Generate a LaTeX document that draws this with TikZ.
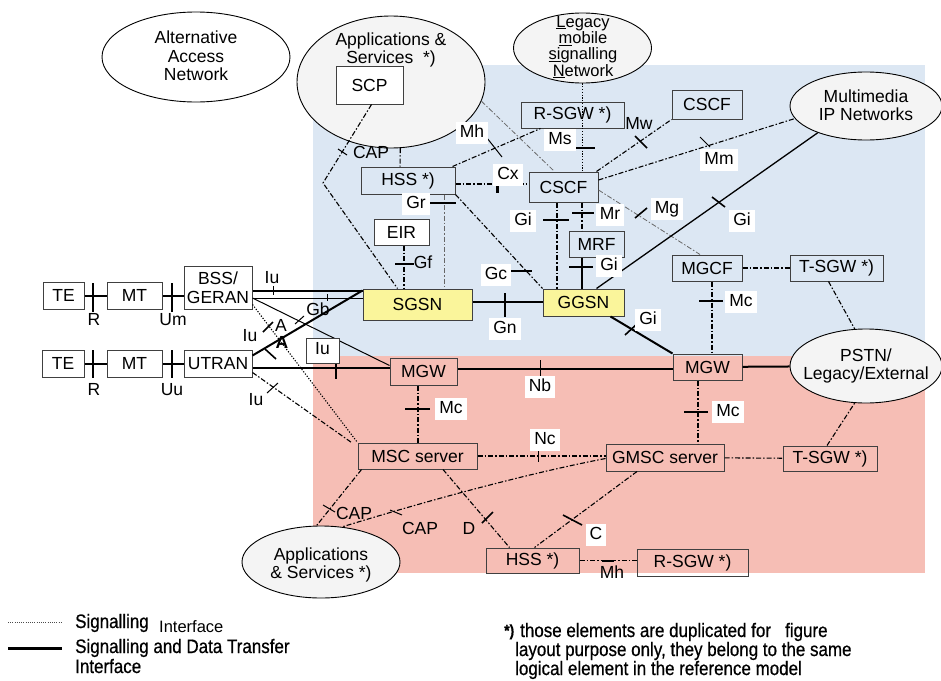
\documentclass[tikz,border=0pt]{standalone}
\usepackage{fontspec}
\setmainfont{Liberation Sans}
\newfontfamily\legfont[FakeStretch=0.87,FakeBold=0.6]{Liberation Sans}
\usetikzlibrary{calc,shapes.geometric}
\definecolor{bluebg}{RGB}{220,231,243}
\definecolor{pinkbg}{RGB}{246,190,181}
\definecolor{ellfill}{RGB}{244,244,244}
\definecolor{yel}{RGB}{250,245,155}
\definecolor{boxline}{RGB}{64,64,64}
\begin{document}
\begin{tikzpicture}[x=1pt,y=-1pt,
  every node/.style={font=\fontsize{17.5}{18.5}\selectfont, inner sep=0pt},
  nbox/.style={draw=boxline, line width=1pt, rectangle, align=center},
  wbox/.style={nbox, fill=white},
  ybox/.style={nbox, fill=yel},
  cloud/.style={ellipse, draw=black, line width=0.9pt, fill=ellfill},
  ctext/.style={align=center},
  sig/.style={line width=1.1pt, dash pattern=on 5pt off 2pt on 1.5pt off 2pt},
  sigthin/.style={line width=0.8pt, draw=black!60, dash pattern=on 5pt off 2pt on 1.5pt off 2pt},
  dots/.style={line width=1.1pt, dash pattern=on 1.2pt off 1.6pt},
  data/.style={line width=2pt},
  datathin/.style={line width=1pt},
  tk/.style={line width=1.6pt},
  tkthin/.style={line width=1pt},
  lbl/.style={text height=12pt, text depth=3.5pt},
  wlbl/.style={lbl, fill=white, inner xsep=4pt, inner ysep=3pt},
  legtext/.style={anchor=base west, font=\legfont\fontsize{19.5}{20}\selectfont},
]
\useasboundingbox (0,0) rectangle (941,680);

% domains
\fill[bluebg] (313,65) rectangle (925,356);
\fill[pinkbg] (313,356) rectangle (925,573);

% external networks
\node[cloud, fill=white, minimum width=188, minimum height=90] (alt) at (196,57) {};
\node[ctext] (altt) at (196,56) {Alternative\\Access\\Network};
\node[cloud, minimum width=188, minimum height=132] (app1) at (391,82) {};
\node[ctext] (app1t) at (391,50) {Applications \&\\Services\ \ *)};
\node[cloud, minimum width=138, minimum height=70] (legacy) at (582.5,48) {};
\node[ctext, font=\fontsize{16.5}{16.3}\selectfont] (legacyt) at (583,47) {\underline{L}egacy\\\underline{m}obile\\\underline{si}gnalling\\\underline{N}etwork};
\node[cloud, minimum width=152, minimum height=68] (mmip) at (866,106) {};
\node[ctext] (mmipt) at (866,105) {Multimedia\\IP Networks};
\node[cloud, minimum width=152, minimum height=74] (pstn) at (866,366) {};
\node[ctext] (pstnt) at (866,366) {PSTN/\\Legacy/External};
\node[cloud, minimum width=158, minimum height=72] (app2) at (321,562) {};
\node[ctext] (app2t) at (321,565) {Applications\\\& Services *)};

% network elements
\node[wbox, minimum width=41, minimum height=27] (te1) at (63.5,295.5) {TE};
\node[wbox, minimum width=55, minimum height=27] (mt1) at (134.5,295.5) {MT};
\node[wbox, minimum width=68, minimum height=43] (bss) at (218,287.5) {BSS/\\GERAN};
\node[wbox, minimum width=42, minimum height=27] (te2) at (63,363.5) {TE};
\node[wbox, minimum width=55, minimum height=27] (mt2) at (134.5,363.5) {MT};
\node[wbox, minimum width=68, minimum height=27] (utran) at (218,363.5) {UTRAN};
\node[wbox, minimum width=67, minimum height=38] (scp) at (369.5,85) {SCP};
\node[nbox, minimum width=103, minimum height=26] (rsgw1) at (572.5,115) {R-SGW *)};
\node[nbox, minimum width=70, minimum height=29] (cscf2) at (707,104.5) {CSCF};
\node[nbox, minimum width=94, minimum height=27] (hss1) at (408,180.5) {HSS *)};
\node[nbox, minimum width=69, minimum height=30] (cscf1) at (563.5,187) {CSCF};
\node[wbox, minimum width=55, minimum height=26] (eir) at (401.5,232) {EIR};
\node[nbox, minimum width=55, minimum height=26] (mrf) at (596.5,244) {MRF};
\node[ybox, minimum width=109, minimum height=31] (sgsn) at (417.5,304.5) {SGSN};
\node[ybox, minimum width=81, minimum height=27] (ggsn) at (583.5,302.5) {GGSN};
\node[nbox, minimum width=70, minimum height=26] (mgcf) at (707,268) {MGCF};
\node[nbox, minimum width=93, minimum height=26] (tsgw1) at (836.5,268) {T-SGW *)};
\node[nbox, minimum width=67, minimum height=27] (mgw1) at (423.5,371.5) {MGW};
\node[nbox, minimum width=69, minimum height=26] (mgw2) at (707.5,367) {MGW};
\node[nbox, minimum width=119, minimum height=26] (msc) at (417.5,456) {MSC server};
\node[nbox, minimum width=118, minimum height=27] (gmsc) at (665,457.5) {GMSC server};
\node[nbox, minimum width=94, minimum height=25] (tsgw2) at (830,458.5) {T-SGW *)};
\node[nbox, minimum width=93, minimum height=25] (hss2) at (532.5,560.5) {HSS *)};
\node[nbox, minimum width=111, minimum height=27] (rsgw2) at (692.5,562.5) {R-SGW *)};
\coordinate (capbend) at (323,183);

% access links
\draw[data] (te1) -- (mt1);
\draw[data] (mt1) -- (mt1 -| bss.west);
\draw[data] (te2) -- (mt2);
\draw[data] (mt2) -- (utran);

% radio access network to core
\draw[data] ($(bss.east)+(0,3.5)$) -- ($(sgsn.west)+(0,-13.5)$);
\draw[datathin] ($(bss.east)+(0,10.5)$) -- ($(sgsn.west)+(0,-6.5)$);
\draw[datathin] ($(bss.east)+(0,10.5)$) -- ($(mgw1.west)+(0,-6)$);
\draw[data] ($(utran.east)+(0,-8)$) -- ($(sgsn.north west)+(0,2)$);
\draw[data] ($(utran.east)+(0,4.5)$) -- ($(mgw1.west)+(0,-3.5)$);
\draw[dots] ($(bss.east)+(0,17)$) -- (msc.north west);
\draw[sig] ($(utran.east)+(0,9)$) -- ($(msc.north west)+(-6,0)$);

% packet and IMS domain
\draw[sig] ($(scp.south)+(2,0)$) -- (capbend) -- ($(sgsn.north)+(-20,0)$);
\draw[sig] (app1.-82) -- ($(hss1.north)+(-8,0)$);
\draw[sigthin] ($(hss1.south)+(36,0)$) -- ($(sgsn.north)+(26.5,0)$);
\draw[sig] ($(eir.south)+(2.5,0)$) -- ($(sgsn.north)+(-13.5,0)$);
\draw[sig] (hss1.south east) -- (ggsn.north west);
\draw[sig] ($(hss1.east)+(0,3.5)$) -- ($(cscf1.west)+(0,-3)$);
\draw[sig] ($(hss1.north east)+(-3,0)$) -- ($(rsgw1.south west)+(20,0)$);
\draw[sigthin] (app1.-12) -- ($(cscf1.north west)+(26,0)$);
\draw[dots, line width=0.9pt] (legacy.south) -- ($(cscf1.north)+(19,0)$);
\draw[sig] ($(cscf1.north east)+(-2,0)$) -- (cscf2.south west);
\draw[sig] ($(cscf1.east)+(0,-7)$) -- (mmip.190);
\draw[sigthin] ($(cscf1.east)+(0,3)$) -- ($(mgcf.north)+(-7,0)$);
\draw[sig] ($(cscf1.south)+(-6.5,0)$) -- ($(ggsn.north)+(-26.5,0)$);
\draw[sig] ($(cscf1.south)+(18.5,0)$) -- ($(mrf.north)+(-14.5,0)$);
\draw[data] ($(mrf.south)+(-14.5,0)$) -- ($(ggsn.north)+(-1.5,0)$);
\draw[line width=1.3pt] ($(ggsn.north east)+(-28,0)$) -- (mmip.209);
\draw[data] ($(ggsn.south east)+(-14,0)$) -- (mgw2.north west);
\draw[data] ($(sgsn.east)+(0,-2.5)$) -- ($(ggsn.west)+(0,-0.5)$);
\draw[sig] (mgcf) -- (tsgw1);
\draw[sig] ($(tsgw1.south)+(-8,0)$) -- (pstn.107);
\draw[sig] ($(mgcf.south)+(5,0)$) -- ($(mgw2.north)+(4.5,0)$);

% circuit domain
\draw[data] ($(mgw1.east)+(0,-2.5)$) -- ($(mgw2.west)+(0,2)$);
\draw[data] (mgw2) -- (pstn);
\draw[sig] ($(mgw1.south)+(-5.5,0)$) -- ($(msc.north)+(0.5,0)$);
\draw[sig] ($(mgw2.south)+(-9.5,0)$) -- ($(gmsc.north)+(33,0)$);
\draw[sig] (msc) -- (msc -| gmsc.west);
\draw[sig] (gmsc) -- (tsgw2);
\draw[sig] ($(tsgw2.north)+(-3,0)$) -- (pstn.253);
\draw[sig] ($(msc.south)+(25.5,0)$) -- ($(hss2.north west)+(24,0)$);
\draw[sig] ($(gmsc.south)+(-28,0)$) -- ($(hss2.north)+(2,0)$);
\draw[sig] (hss2) -- (hss2 -| rsgw2.west);
\draw[sig] ($(msc.south west)+(4,0)$) -- (app2.97);
\draw[sig] ($(gmsc.west)+(0,1)$) .. controls (520,475) and (420,503) .. (app2.59);

% interface marks
\draw[tk] (93,283) -- (93,312);
\draw[tk] (172,283) -- (172,312);
\draw[tk] (93,350) -- (93,378);
\draw[tk] (172,350) -- (172,378);
\draw[tkthin] (273,286) -- (273,295);
\draw[tkthin] (327,294) -- (327,301);
\draw[tkthin] (295,324) -- (304,316);
\draw[tk] (263,332) -- (273,322);
\draw[tk] (265,349) -- (276,359);
\draw[tkthin] (267,393) -- (278,383);
\draw[line width=2.5pt] (336,362) -- (336,379);
\draw[tkthin] (338,149) -- (347,155);
\draw[tk] (430,203) -- (456,203);
\draw[tk] (395,264) -- (414,264);
\draw[tk] (508,271) -- (532,271);
\draw[line width=3pt] (497,185) -- (497,193);
\draw[tkthin] (487,138) -- (502,157);
\draw[tk] (569,148) -- (595,148);
\draw[tk] (635,136) -- (647,148);
\draw[tkthin] (700,137) -- (710,147);
\draw[tk] (635,218) -- (647,208);
\draw[tk] (543,220) -- (569,220);
\draw[tk] (572,213) -- (594,213);
\draw[tk] (569,267) -- (593,267);
\draw[tk] (712,197) -- (725,207);
\draw[tk] (625,335) -- (638,323);
\draw[tk] (505,293) -- (505,317);
\draw[tk] (699,301) -- (723,301);
\draw[tkthin] (540,360) -- (540,377);
\draw[tk] (405,409) -- (430,409);
\draw[tk] (684,412) -- (708,412);
\draw[tkthin] (538,445) -- (538,462);
\draw[tk] (482,523) -- (493,512);
\draw[tk] (563,515) -- (582,525);
\draw[line width=2.5pt] (602,561) -- (614,561);
\draw[tkthin] (323,505) -- (335,512);
\draw[tkthin] (390,510) -- (402,515);

% interface names
\node[lbl] (lR1) at (94,321) {R};
\node[lbl] (lUm) at (173,321) {Um};
\node[lbl] (lR2) at (94,391) {R};
\node[lbl] (lUu) at (172,391) {Uu};
\node[lbl] (lIu1) at (272,279) {Iu};
\node[lbl] (lGb) at (318,311) {Gb};
\node[lbl] (lA1) at (281,327) {A};
\node[lbl] (lA2) at (282,344) {\textbf{A}};
\node[lbl] (lIu2) at (250,337) {Iu};
\node[lbl] (lIu3) at (256,401) {Iu};
\node[nbox, fill=white, lbl, minimum width=33, minimum height=25] (iubox) at (322.5,350.5) {Iu};
\node[lbl] (lCAP1) at (371,154) {CAP};
\node[wlbl] (lGr) at (416,204) {Gr};
\node[lbl] (lGf) at (423,264) {Gf};
\node[wlbl] (lGc) at (496,275) {Gc};
\node[wlbl] (lCx) at (508,175) {Cx};
\node[wlbl] (lMh1) at (472,133) {Mh};
\node[wlbl] (lMs) at (560,140) {Ms};
\node[lbl] (lMw) at (639,125) {Mw};
\node[wlbl] (lMm) at (719,160) {Mm};
\node[wlbl] (lMg) at (667,209) {Mg};
\node[wlbl] (lGi1) at (523,221) {Gi};
\node[wlbl] (lMr) at (610,215) {Mr};
\node[wlbl] (lGi2) at (609,266) {Gi};
\node[wlbl] (lGi3) at (742,221) {Gi};
\node[wlbl] (lGi4) at (648,320) {Gi};
\node[wlbl] (lGn) at (505,329) {Gn};
\node[wlbl] (lMc1) at (741,302) {Mc};
\node[wlbl] (lNb) at (540,387) {Nb};
\node[wlbl] (lMc2) at (451,409) {Mc};
\node[wlbl] (lMc3) at (728,412) {Mc};
\node[wlbl] (lNc) at (545,440) {Nc};
\node[lbl] (lD) at (469,530) {D};
\node[wlbl] (lC) at (596,535) {C};
\node[lbl] (lMh2) at (612,574) {Mh};
\node[lbl] (lCAP2) at (354,515) {CAP};
\node[lbl] (lCAP3) at (420,530) {CAP};

% key
\coordinate (k1a) at (8,622); \coordinate (k1b) at (62,622);
\coordinate (k2a) at (8,648); \coordinate (k2b) at (62,648);
\draw[line width=0.8pt, black!70, dash pattern=on 1pt off 1.2pt] (k1a) -- (k1b);
\draw[line width=3pt] (k2a) -- (k2b);
\node[legtext] (key1) at (75,628) {Signalling};
\node[anchor=base west, font=\fontsize{16.5}{18}\selectfont] (key1b) at (159,632) {Interface};
\node[legtext] (key2) at (75,653) {Signalling and Data Transfer};
\node[legtext] (key2b) at (75,673) {Interface};
\node[legtext, font=\legfont\bfseries\fontsize{16}{18}\selectfont] (note0) at (504,636) {*)};
\node[legtext] (note1) at (520,637) {those elements are duplicated for\ \ \ figure};
\node[legtext] (note2) at (515,656) {layout purpose only, they belong to the same};
\node[legtext] (note3) at (515,675) {logical element in the reference model};
\end{tikzpicture}
\end{document}
